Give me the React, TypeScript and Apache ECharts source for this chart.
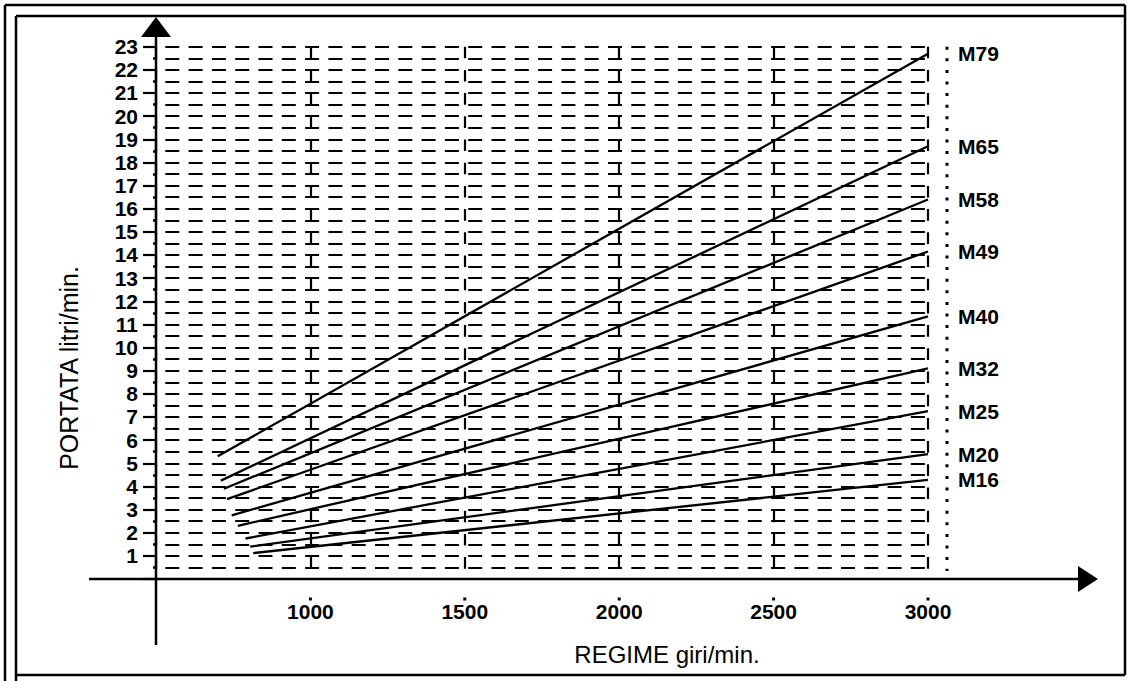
import React, { useEffect, useRef } from 'react';
import * as echarts from 'echarts';

// Pump models and their flow lines (regime giri/min -> portata litri/min)
const models = ['M79', 'M65', 'M58', 'M49', 'M40', 'M32', 'M25', 'M20', 'M16'];
const startRpm = [700, 710, 720, 730, 745, 765, 790, 805, 815];
const startFlow = [5.3, 4.25, 3.9, 3.45, 2.75, 2.3, 1.75, 1.4, 1.12];
const endRpm = [3000, 3000, 3000, 3000, 3000, 3000, 3000, 3000, 3000];
const endFlow = [22.7, 18.7, 16.4, 14.15, 11.35, 9.1, 7.25, 5.4, 4.28];

const xTicks = [1000, 1500, 2000, 2500, 3000];
const xMin = 500;
const xMax = 3000;
const yMin = 0;
const yMax = 23;

const FONT = '"Liberation Sans", Arial, sans-serif';

export default function App() {
  const ref = useRef<HTMLDivElement>(null);

  useEffect(() => {
    document.body.style.margin = '0';
    const chart = echarts.init(ref.current as HTMLDivElement, undefined, { renderer: 'svg' });

    const series = models.map((m, i) => ({
      type: 'line',
      name: m,
      data: [
        [startRpm[i], startFlow[i]],
        [endRpm[i], endFlow[i]],
      ],
      symbol: 'none',
      lineStyle: { color: '#000', width: 2.3 },
      itemStyle: { color: '#000' },
      z: 5,
      endLabel: {
        show: true,
        formatter: '{a}',
        distance: 30,
        color: '#000',
        fontFamily: FONT,
        fontWeight: 'bold',
        fontSize: 21,
      },
    }));

    const hDash = { color: '#000', width: 2.2, type: [14, 9.3], dashOffset: 14.3 };

    chart.setOption({
      animation: false,
      backgroundColor: '#fff',
      grid: { left: 156, top: 46.7, width: 772, height: 532.3, containLabel: false },
      xAxis: {
        type: 'value',
        min: xMin,
        max: xMax,
        interval: 500,
        axisLine: { show: false },
        axisTick: { show: false },
        axisLabel: {
          formatter: (v: number) => (xTicks.indexOf(v) >= 0 ? String(v) : ''),
          color: '#000',
          fontFamily: FONT,
          fontWeight: 'bold',
          fontSize: 21,
          margin: 22,
        },
        splitLine: {
          show: true,
          lineStyle: { color: '#000', width: 2.2, type: [11.6, 11.6] },
        },
      },
      yAxis: {
        type: 'value',
        min: yMin,
        max: yMax,
        interval: 1,
        axisLine: { show: false },
        axisTick: { show: true, length: 13, lineStyle: { color: '#000', width: 2.2 } },
        minorTick: { show: true, splitNumber: 2, length: 3, lineStyle: { color: '#000', width: 2.5 } },
        axisLabel: {
          formatter: (v: number) => (v > 0 ? String(v) : ''),
          color: '#000',
          fontFamily: FONT,
          fontWeight: 'bold',
          fontSize: 21,
          margin: 18,
          padding: [0, 0, 9, 0],
        },
        splitLine: { show: true, lineStyle: hDash },
        minorSplitLine: { show: true, lineStyle: hDash },
      },
      series,
    });

    const p = (x: number, y: number) => chart.convertToPixel({ gridIndex: 0 }, [x, y]) as number[];
    const o = p(xMin, yMin);
    const r = p(xMax, yMax);
    const black = { stroke: '#000', lineWidth: 2.5 };
    const ln = (x1: number, y1: number, x2: number, y2: number, style: any = black) => ({
      type: 'line',
      z: 100,
      shape: { x1, y1, x2, y2 },
      style,
    });

    const dots = xTicks.map((v) => {
      const px = p(v, 0)[0];
      return { type: 'rect', z: 100, shape: { x: px - 1.5, y: o[1] + 18.5, width: 3, height: 3 }, style: { fill: '#000' } };
    });

    chart.setOption({
      graphic: [
        // double frame
        ln(5, 5, 1125, 5),
        ln(5, 5, 5, 681),
        ln(16, 16, 1125, 16),
        ln(16, 16, 16, 681),
        ln(16, 675, 1125, 675),
        ln(1125, 5, 1125, 675),
        // x axis with arrow
        ln(o[0] - 67, o[1], r[0] + 152, o[1]),
        {
          type: 'polygon',
          z: 100,
          shape: { points: [[r[0] + 150, o[1] - 13], [r[0] + 170, o[1]], [r[0] + 150, o[1] + 13]] },
          style: { fill: '#000' },
        },
        // y axis with arrow
        ln(o[0], o[1] + 66, o[0], r[1] - 12),
        {
          type: 'polygon',
          z: 100,
          shape: { points: [[o[0] - 15, r[1] - 9.7], [o[0], r[1] - 29.7], [o[0] + 15, r[1] - 9.7]] },
          style: { fill: '#000' },
        },
        // dotted boundary line
        ln(r[0] + 19, r[1], r[0] + 19, o[1] - 8, { stroke: '#000', lineWidth: 3, lineDash: [3, 8.6] }),
        ...dots,
        {
          type: 'text',
          z: 100,
          x: 69,
          y: 368,
          rotation: Math.PI / 2,
          style: {
            text: 'PORTATA litri/min.',
            font: `25px ${FONT}`,
            fill: '#000',
            align: 'center',
            verticalAlign: 'middle',
          },
        },
        {
          type: 'text',
          z: 100,
          x: 667,
          y: 654,
          style: {
            text: 'REGIME giri/min.',
            font: `24px ${FONT}`,
            fill: '#000',
            align: 'center',
            verticalAlign: 'middle',
          },
        },
      ],
    });

    return () => chart.dispose();
  }, []);

  return <div ref={ref} style={{ width: 1127, height: 681 }} />;
}
